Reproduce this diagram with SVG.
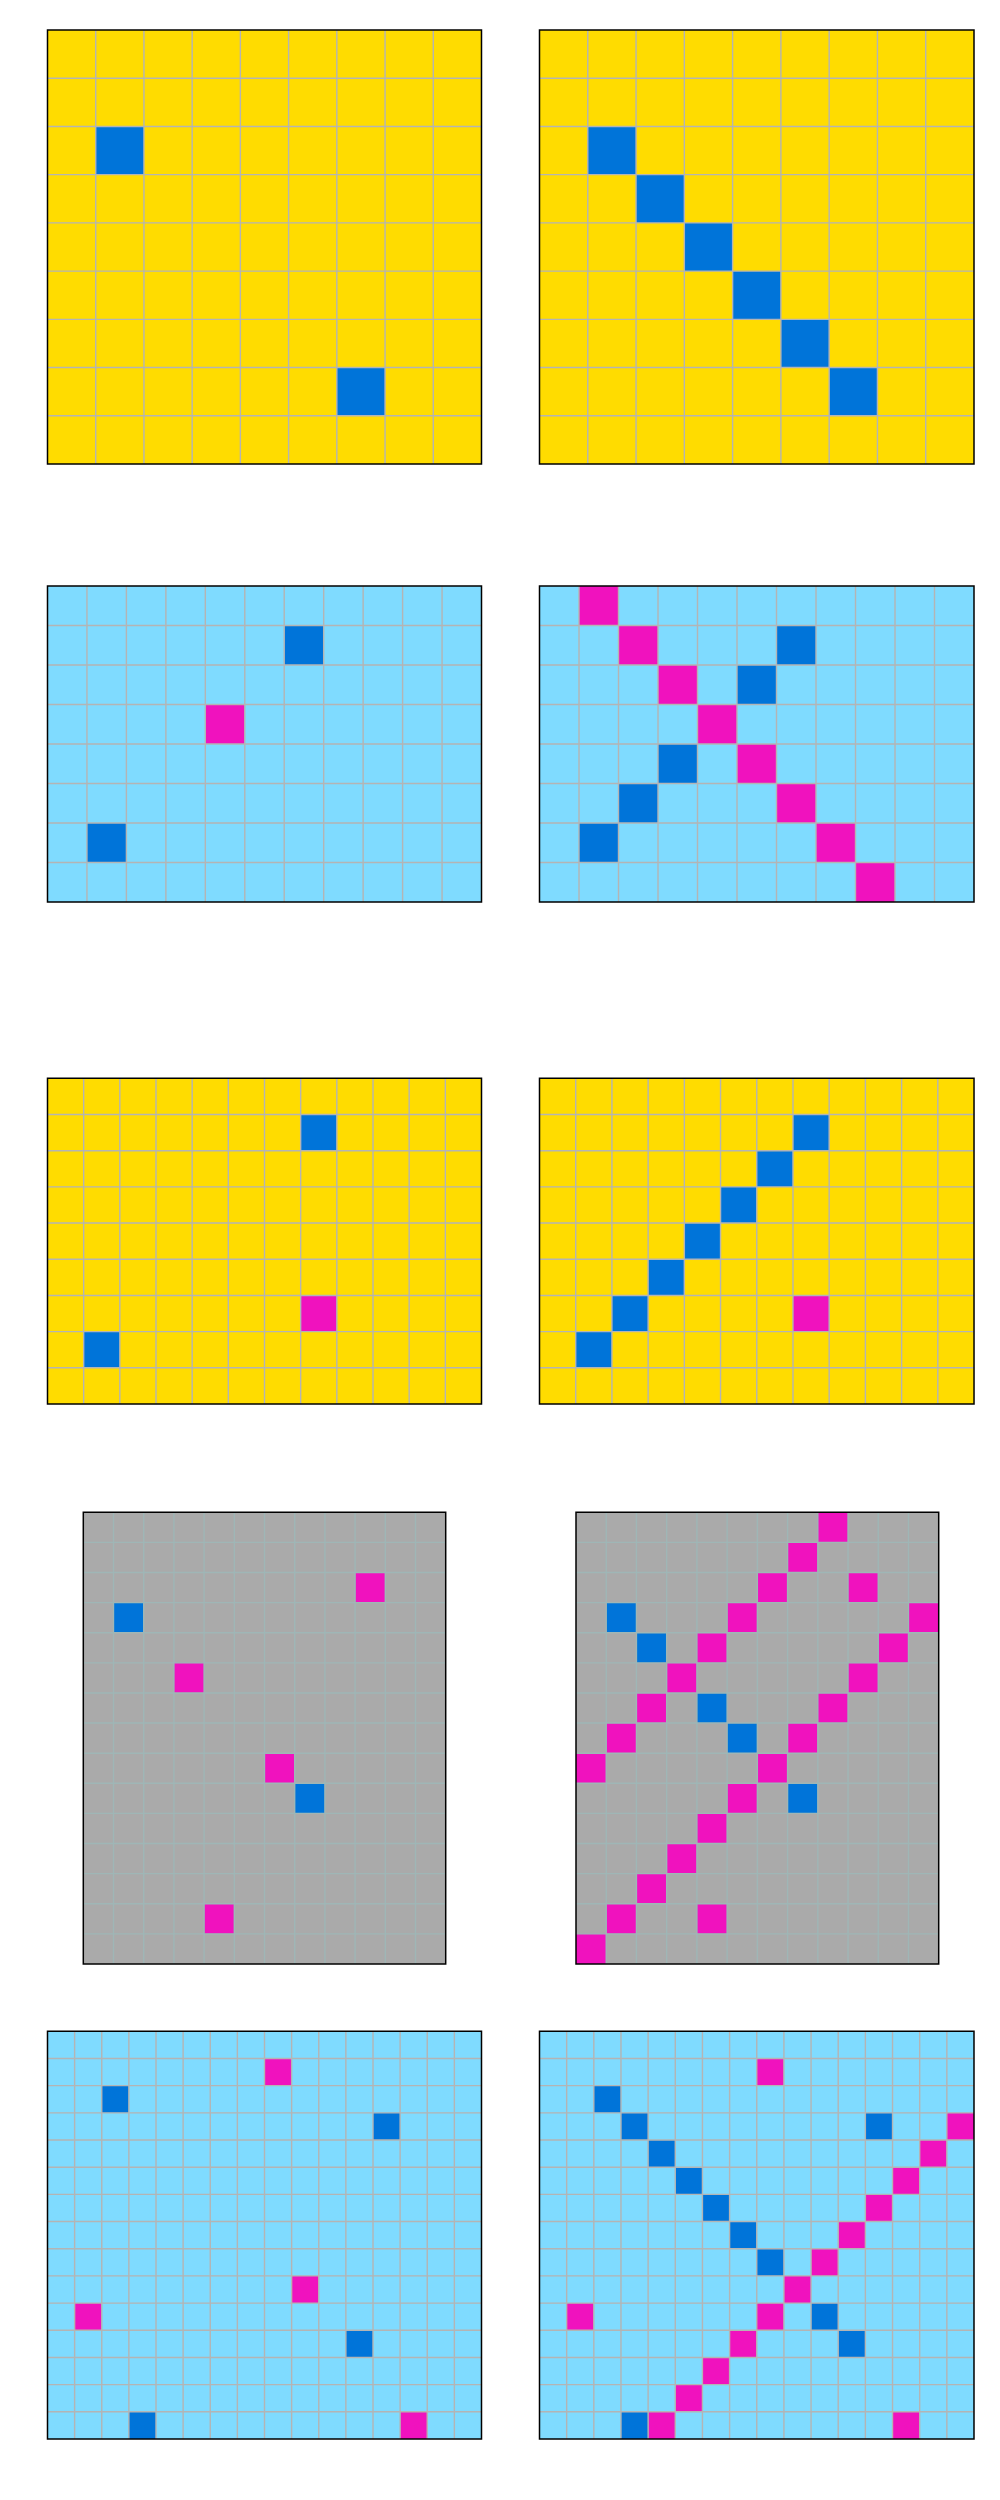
<svg xmlns="http://www.w3.org/2000/svg" width="1000" height="2500" viewBox="0 0 1000 2500">
<style>
.y{fill:#FFDC00}.lb{fill:#7FDBFF}.g{fill:#AAAAAA}
.b{fill:#0074D9}.m{fill:#F012BE}
.ln{fill:none;stroke:#b4b4b4;stroke-width:1.4;vector-effect:non-scaling-stroke}
.lg{fill:none;stroke:#9fb6b6;stroke-width:1.4;vector-effect:non-scaling-stroke}
.bd{fill:none;stroke:#000;stroke-width:1.5;vector-effect:non-scaling-stroke}
</style>
<rect width="1000" height="2500" fill="#fff"/>
<g id="grid1" transform="translate(47.5,30) scale(48.222,48.222)">
<rect class="y" width="9" height="9"/>
<rect class="b" x="1" y="2" width="1" height="1"/>
<rect class="b" x="6" y="7" width="1" height="1"/>
<path class="ln" d="M1 0V9M2 0V9M3 0V9M4 0V9M5 0V9M6 0V9M7 0V9M8 0V9M0 1H9M0 2H9M0 3H9M0 4H9M0 5H9M0 6H9M0 7H9M0 8H9"/>
<rect class="bd" width="9" height="9"/>
</g>
<g id="grid2" transform="translate(539.5,30) scale(48.278,48.222)">
<rect class="y" width="9" height="9"/>
<rect class="b" x="1" y="2" width="1" height="1"/>
<rect class="b" x="2" y="3" width="1" height="1"/>
<rect class="b" x="3" y="4" width="1" height="1"/>
<rect class="b" x="4" y="5" width="1" height="1"/>
<rect class="b" x="5" y="6" width="1" height="1"/>
<rect class="b" x="6" y="7" width="1" height="1"/>
<path class="ln" d="M1 0V9M2 0V9M3 0V9M4 0V9M5 0V9M6 0V9M7 0V9M8 0V9M0 1H9M0 2H9M0 3H9M0 4H9M0 5H9M0 6H9M0 7H9M0 8H9"/>
<rect class="bd" width="9" height="9"/>
</g>
<g id="grid3" transform="translate(47.5,586) scale(39.455,39.5)">
<rect class="lb" width="11" height="8"/>
<rect class="b" x="6" y="1" width="1" height="1"/>
<rect class="m" x="4" y="3" width="1" height="1"/>
<rect class="b" x="1" y="6" width="1" height="1"/>
<path class="ln" d="M1 0V8M2 0V8M3 0V8M4 0V8M5 0V8M6 0V8M7 0V8M8 0V8M9 0V8M10 0V8M0 1H11M0 2H11M0 3H11M0 4H11M0 5H11M0 6H11M0 7H11"/>
<rect class="bd" width="11" height="8"/>
</g>
<g id="grid4" transform="translate(539.5,586) scale(39.5,39.5)">
<rect class="lb" width="11" height="8"/>
<rect class="m" x="1" y="0" width="1" height="1"/>
<rect class="m" x="2" y="1" width="1" height="1"/>
<rect class="m" x="3" y="2" width="1" height="1"/>
<rect class="m" x="4" y="3" width="1" height="1"/>
<rect class="m" x="5" y="4" width="1" height="1"/>
<rect class="m" x="6" y="5" width="1" height="1"/>
<rect class="m" x="7" y="6" width="1" height="1"/>
<rect class="m" x="8" y="7" width="1" height="1"/>
<rect class="b" x="6" y="1" width="1" height="1"/>
<rect class="b" x="5" y="2" width="1" height="1"/>
<rect class="b" x="3" y="4" width="1" height="1"/>
<rect class="b" x="2" y="5" width="1" height="1"/>
<rect class="b" x="1" y="6" width="1" height="1"/>
<path class="ln" d="M1 0V8M2 0V8M3 0V8M4 0V8M5 0V8M6 0V8M7 0V8M8 0V8M9 0V8M10 0V8M0 1H11M0 2H11M0 3H11M0 4H11M0 5H11M0 6H11M0 7H11"/>
<rect class="bd" width="11" height="8"/>
</g>
<g id="grid5" transform="translate(47.5,1078.3) scale(36.167,36.19)">
<rect class="y" width="12" height="9"/>
<rect class="b" x="7" y="1" width="1" height="1"/>
<rect class="m" x="7" y="6" width="1" height="1"/>
<rect class="b" x="1" y="7" width="1" height="1"/>
<path class="ln" d="M1 0V9M2 0V9M3 0V9M4 0V9M5 0V9M6 0V9M7 0V9M8 0V9M9 0V9M10 0V9M11 0V9M0 1H12M0 2H12M0 3H12M0 4H12M0 5H12M0 6H12M0 7H12M0 8H12"/>
<rect class="bd" width="12" height="9"/>
</g>
<g id="grid6" transform="translate(539.5,1078.3) scale(36.21,36.19)">
<rect class="y" width="12" height="9"/>
<rect class="b" x="7" y="1" width="1" height="1"/>
<rect class="b" x="6" y="2" width="1" height="1"/>
<rect class="b" x="5" y="3" width="1" height="1"/>
<rect class="b" x="4" y="4" width="1" height="1"/>
<rect class="b" x="3" y="5" width="1" height="1"/>
<rect class="b" x="2" y="6" width="1" height="1"/>
<rect class="b" x="1" y="7" width="1" height="1"/>
<rect class="m" x="7" y="6" width="1" height="1"/>
<path class="ln" d="M1 0V9M2 0V9M3 0V9M4 0V9M5 0V9M6 0V9M7 0V9M8 0V9M9 0V9M10 0V9M11 0V9M0 1H12M0 2H12M0 3H12M0 4H12M0 5H12M0 6H12M0 7H12M0 8H12"/>
<rect class="bd" width="12" height="9"/>
</g>
<g id="grid7" transform="translate(83.3,1512.3) scale(30.2,30.11)">
<rect class="g" width="12" height="15"/>
<rect class="m" x="9" y="2" width="1" height="1"/>
<rect class="b" x="1" y="3" width="1" height="1"/>
<rect class="m" x="3" y="5" width="1" height="1"/>
<rect class="m" x="6" y="8" width="1" height="1"/>
<rect class="b" x="7" y="9" width="1" height="1"/>
<rect class="m" x="4" y="13" width="1" height="1"/>
<path class="lg" d="M1 0V15M2 0V15M3 0V15M4 0V15M5 0V15M6 0V15M7 0V15M8 0V15M9 0V15M10 0V15M11 0V15M0 1H12M0 2H12M0 3H12M0 4H12M0 5H12M0 6H12M0 7H12M0 8H12M0 9H12M0 10H12M0 11H12M0 12H12M0 13H12M0 14H12"/>
<rect class="bd" width="12" height="15"/>
</g>
<g id="grid8" transform="translate(576,1512.3) scale(30.225,30.11)">
<rect class="g" width="12" height="15"/>
<rect class="m" x="8" y="0" width="1" height="1"/>
<rect class="m" x="7" y="1" width="1" height="1"/>
<rect class="m" x="6" y="2" width="1" height="1"/>
<rect class="m" x="9" y="2" width="1" height="1"/>
<rect class="b" x="1" y="3" width="1" height="1"/>
<rect class="m" x="5" y="3" width="1" height="1"/>
<rect class="m" x="11" y="3" width="1" height="1"/>
<rect class="b" x="2" y="4" width="1" height="1"/>
<rect class="m" x="4" y="4" width="1" height="1"/>
<rect class="m" x="10" y="4" width="1" height="1"/>
<rect class="m" x="3" y="5" width="1" height="1"/>
<rect class="m" x="9" y="5" width="1" height="1"/>
<rect class="m" x="2" y="6" width="1" height="1"/>
<rect class="b" x="4" y="6" width="1" height="1"/>
<rect class="m" x="8" y="6" width="1" height="1"/>
<rect class="m" x="1" y="7" width="1" height="1"/>
<rect class="b" x="5" y="7" width="1" height="1"/>
<rect class="m" x="7" y="7" width="1" height="1"/>
<rect class="m" x="0" y="8" width="1" height="1"/>
<rect class="m" x="6" y="8" width="1" height="1"/>
<rect class="m" x="5" y="9" width="1" height="1"/>
<rect class="b" x="7" y="9" width="1" height="1"/>
<rect class="m" x="4" y="10" width="1" height="1"/>
<rect class="m" x="3" y="11" width="1" height="1"/>
<rect class="m" x="2" y="12" width="1" height="1"/>
<rect class="m" x="1" y="13" width="1" height="1"/>
<rect class="m" x="4" y="13" width="1" height="1"/>
<rect class="m" x="0" y="14" width="1" height="1"/>
<path class="lg" d="M1 0V15M2 0V15M3 0V15M4 0V15M5 0V15M6 0V15M7 0V15M8 0V15M9 0V15M10 0V15M11 0V15M0 1H12M0 2H12M0 3H12M0 4H12M0 5H12M0 6H12M0 7H12M0 8H12M0 9H12M0 10H12M0 11H12M0 12H12M0 13H12M0 14H12"/>
<rect class="bd" width="12" height="15"/>
</g>
<g id="grid9" transform="translate(47.5,2031.3) scale(27.125,27.18)">
<rect class="lb" width="16" height="15"/>
<rect class="m" x="8" y="1" width="1" height="1"/>
<rect class="b" x="2" y="2" width="1" height="1"/>
<rect class="b" x="12" y="3" width="1" height="1"/>
<rect class="m" x="9" y="9" width="1" height="1"/>
<rect class="m" x="1" y="10" width="1" height="1"/>
<rect class="b" x="11" y="11" width="1" height="1"/>
<rect class="b" x="3" y="14" width="1" height="1"/>
<rect class="m" x="13" y="14" width="1" height="1"/>
<path class="ln" d="M1 0V15M2 0V15M3 0V15M4 0V15M5 0V15M6 0V15M7 0V15M8 0V15M9 0V15M10 0V15M11 0V15M12 0V15M13 0V15M14 0V15M15 0V15M0 1H16M0 2H16M0 3H16M0 4H16M0 5H16M0 6H16M0 7H16M0 8H16M0 9H16M0 10H16M0 11H16M0 12H16M0 13H16M0 14H16"/>
<rect class="bd" width="16" height="15"/>
</g>
<g id="grid10" transform="translate(539.5,2031.3) scale(27.156,27.18)">
<rect class="lb" width="16" height="15"/>
<rect class="m" x="8" y="1" width="1" height="1"/>
<rect class="b" x="2" y="2" width="1" height="1"/>
<rect class="b" x="3" y="3" width="1" height="1"/>
<rect class="b" x="12" y="3" width="1" height="1"/>
<rect class="m" x="15" y="3" width="1" height="1"/>
<rect class="b" x="4" y="4" width="1" height="1"/>
<rect class="m" x="14" y="4" width="1" height="1"/>
<rect class="b" x="5" y="5" width="1" height="1"/>
<rect class="m" x="13" y="5" width="1" height="1"/>
<rect class="b" x="6" y="6" width="1" height="1"/>
<rect class="m" x="12" y="6" width="1" height="1"/>
<rect class="b" x="7" y="7" width="1" height="1"/>
<rect class="m" x="11" y="7" width="1" height="1"/>
<rect class="b" x="8" y="8" width="1" height="1"/>
<rect class="m" x="10" y="8" width="1" height="1"/>
<rect class="m" x="9" y="9" width="1" height="1"/>
<rect class="m" x="1" y="10" width="1" height="1"/>
<rect class="m" x="8" y="10" width="1" height="1"/>
<rect class="b" x="10" y="10" width="1" height="1"/>
<rect class="m" x="7" y="11" width="1" height="1"/>
<rect class="b" x="11" y="11" width="1" height="1"/>
<rect class="m" x="6" y="12" width="1" height="1"/>
<rect class="m" x="5" y="13" width="1" height="1"/>
<rect class="b" x="3" y="14" width="1" height="1"/>
<rect class="m" x="4" y="14" width="1" height="1"/>
<rect class="m" x="13" y="14" width="1" height="1"/>
<path class="ln" d="M1 0V15M2 0V15M3 0V15M4 0V15M5 0V15M6 0V15M7 0V15M8 0V15M9 0V15M10 0V15M11 0V15M12 0V15M13 0V15M14 0V15M15 0V15M0 1H16M0 2H16M0 3H16M0 4H16M0 5H16M0 6H16M0 7H16M0 8H16M0 9H16M0 10H16M0 11H16M0 12H16M0 13H16M0 14H16"/>
<rect class="bd" width="16" height="15"/>
</g>
</svg>
